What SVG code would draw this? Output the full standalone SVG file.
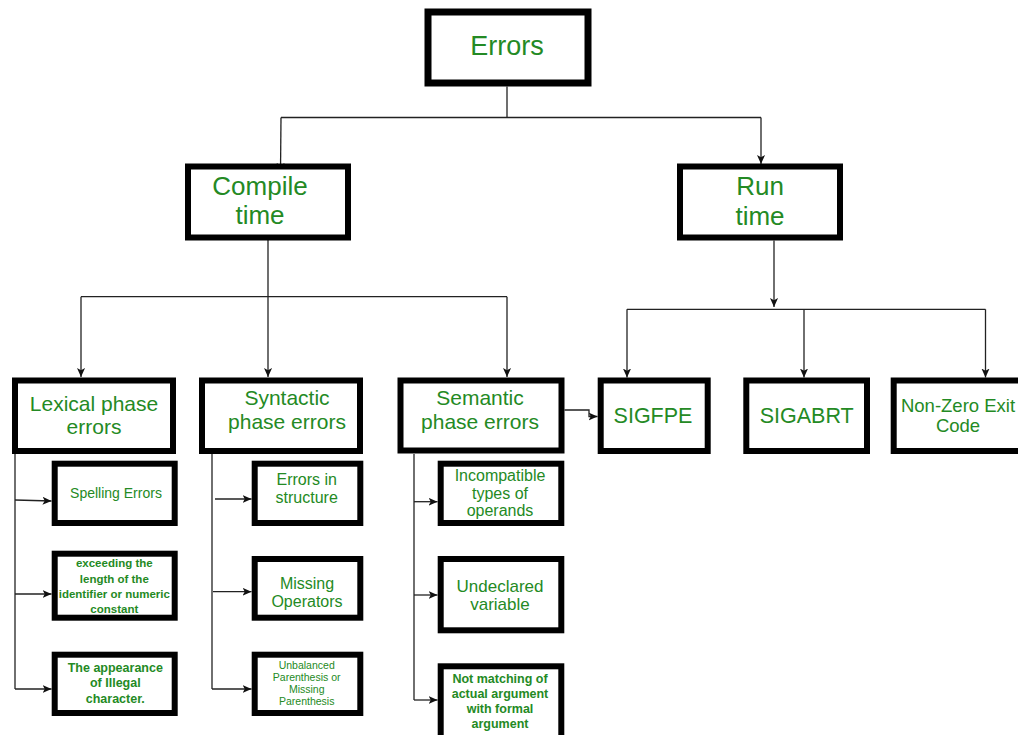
<svg xmlns="http://www.w3.org/2000/svg" width="1018" height="735" viewBox="0 0 1018 735">
  <style>
    .box { fill: #ffffff; stroke: #000000; stroke-width: 6; }
    .top { stroke-width: 7; }
    .frame { fill: none; stroke: #000000; stroke-width: 6; }
    .lbl { font-family: "Liberation Sans", Arial, sans-serif; fill: #248a24; text-anchor: middle; }
    .b { font-weight: bold; }
    .wire { fill: none; stroke: #222222; stroke-width: 1.3; }
    .arrow { fill: none; stroke: #222222; stroke-width: 1.3; marker-end: url(#head); }
  </style>
  <defs>
    <marker id="head" viewBox="0 0 10 10" refX="10" refY="5" markerWidth="9" markerHeight="9" markerUnits="userSpaceOnUse" orient="auto">
      <path d="M0,0.5 L10,5 L0,9.5 L2.5,5 Z" fill="#111111"/>
    </marker>
  </defs>
  <rect width="1018" height="735" fill="#ffffff"/>

  <g id="connectors">
    <!-- Errors -> Compile time / Run time -->
    <path class="wire" d="M507,86.5 V117.5 M281,117.5 H761"/>
    <path class="arrow" d="M281,117.5 L280.5,172"/>
    <path class="arrow" d="M761,117.5 V164"/>
    <!-- Compile time -> phases -->
    <path class="wire" d="M268,240 V296.7 M81,296.7 H507"/>
    <path class="arrow" d="M81,296.7 V377"/>
    <path class="arrow" d="M268,296.7 V377"/>
    <path class="arrow" d="M507,296.7 V377"/>
    <!-- Run time -> signals -->
    <path class="arrow" d="M774,240.5 V307"/>
    <path class="wire" d="M627,309.3 H985.5"/>
    <path class="arrow" d="M627,309.3 V377.5"/>
    <path class="arrow" d="M804,309.3 V377.5"/>
    <path class="arrow" d="M985.5,309.3 V377.5"/>
    <!-- Semantic -> SIGFPE -->
    <path class="arrow" d="M564.5,410 H589 V416.5 H597.5"/>
    <!-- Lexical children -->
    <path class="wire" d="M15,454 V689"/>
    <path class="arrow" d="M15,500 L51.5,501"/>
    <path class="arrow" d="M15,594 H51.5"/>
    <path class="arrow" d="M15,689 H51.5"/>
    <!-- Syntactic children -->
    <path class="wire" d="M212,454 V689"/>
    <path class="arrow" d="M215,499 H251.5"/>
    <path class="arrow" d="M213,591.7 H251.5"/>
    <path class="arrow" d="M212,689 H251.5"/>
    <!-- Semantic children -->
    <path class="wire" d="M414,454 V700"/>
    <path class="arrow" d="M414,501.7 H437.5"/>
    <path class="arrow" d="M414,595 H437.5"/>
    <path class="arrow" d="M414,700 H437.5"/>
  </g>

  <g id="errors">
    <rect class="box top" x="428" y="12" width="160" height="71"/>
    <text class="lbl" x="507" y="55" font-size="27">Errors</text>
  </g>

  <g id="compile-time">
    <rect class="box" x="188" y="166.5" width="160" height="71"/>
    <text class="lbl" font-size="26"><tspan x="260" y="195">Compile</tspan><tspan x="260" y="224">time</tspan></text>
  </g>

  <g id="run-time">
    <rect class="box" x="680" y="166.5" width="160" height="71"/>
    <text class="lbl" font-size="26"><tspan x="760" y="195">Run</tspan><tspan x="760" y="225">time</tspan></text>
  </g>

  <g id="lexical">
    <rect class="box" x="15" y="380.5" width="158" height="70.5"/>
    <text class="lbl" font-size="21"><tspan x="94" y="410.7">Lexical phase</tspan><tspan x="94" y="434">errors</tspan></text>
  </g>

  <g id="syntactic">
    <rect class="box" x="202" y="380.5" width="158" height="70.5"/>
    <text class="lbl" font-size="21"><tspan x="287" y="405">Syntactic</tspan><tspan x="287" y="429.3">phase errors</tspan></text>
  </g>

  <g id="semantic">
    <rect class="box" x="400.5" y="380.5" width="161" height="70"/>
    <text class="lbl" font-size="21"><tspan x="480" y="405">Semantic</tspan><tspan x="480" y="429.3">phase errors</tspan></text>
  </g>

  <g id="sigfpe">
    <rect class="box" x="600.7" y="380.5" width="107" height="70.5"/>
    <text class="lbl" x="653" y="422.7" font-size="21.5">SIGFPE</text>
  </g>

  <g id="sigabrt">
    <rect class="box" x="746.3" y="380.5" width="120.7" height="70.5"/>
    <text class="lbl" x="806.7" y="422.7" font-size="21.5">SIGABRT</text>
  </g>

  <g id="non-zero-exit">
    <rect class="box" x="893.7" y="380.5" width="130" height="70.5"/>
    <text class="lbl" font-size="18.5"><tspan x="958" y="411.7">Non-Zero Exit</tspan><tspan x="958" y="431.7">Code</tspan></text>
  </g>

  <g id="spelling-errors">
    <rect class="box" x="54.7" y="463.7" width="120" height="59.3"/>
    <text class="lbl" x="116" y="498.3" font-size="14">Spelling Errors</text>
  </g>

  <g id="identifier-length">
    <rect x="54.7" y="553.7" width="120" height="64" fill="#ffffff"/>
    <text class="lbl b" font-size="11.5"><tspan x="114.3" y="567.3">exceeding the</tspan><tspan x="114.3" y="582.7">length of the</tspan><tspan x="114.3" y="597.7">identifier or numeric</tspan><tspan x="114.3" y="612.7">constant</tspan></text>
    <!-- border drawn last so it sits over the long middle line -->
    <rect class="frame" x="54.7" y="553.7" width="120" height="64"/>
  </g>

  <g id="illegal-character">
    <rect class="box" x="54.7" y="654.7" width="120" height="58.3"/>
    <text class="lbl b" font-size="12.5"><tspan x="115.3" y="671.7">The appearance</tspan><tspan x="115.3" y="687.3">of Illegal</tspan><tspan x="115.3" y="702.7">character.</tspan></text>
  </g>

  <g id="errors-in-structure">
    <rect class="box" x="254.7" y="463.7" width="105.6" height="59.3"/>
    <text class="lbl" font-size="16"><tspan x="306.7" y="485">Errors in</tspan><tspan x="306.7" y="503">structure</tspan></text>
  </g>

  <g id="missing-operators">
    <rect class="box" x="254.7" y="559" width="105.6" height="58.7"/>
    <text class="lbl" font-size="16"><tspan x="307" y="589">Missing</tspan><tspan x="307" y="607">Operators</tspan></text>
  </g>

  <g id="unbalanced-parenthesis">
    <rect class="box" x="254.7" y="654.7" width="105.6" height="58.3"/>
    <text class="lbl" font-size="10.5"><tspan x="306.7" y="669">Unbalanced</tspan><tspan x="306.7" y="681">Parenthesis or</tspan><tspan x="306.7" y="693">Missing</tspan><tspan x="306.7" y="705">Parenthesis</tspan></text>
  </g>

  <g id="incompatible-types">
    <rect class="box" x="440.7" y="463.7" width="120.6" height="59.3"/>
    <text class="lbl" font-size="16"><tspan x="500" y="481">Incompatible</tspan><tspan x="500" y="498.5">types of</tspan><tspan x="500" y="516">operands</tspan></text>
  </g>

  <g id="undeclared-variable">
    <rect class="box" x="440.7" y="559" width="120.6" height="71.3"/>
    <text class="lbl" font-size="17"><tspan x="500" y="591.7">Undeclared</tspan><tspan x="500" y="610">variable</tspan></text>
  </g>

  <g id="argument-mismatch">
    <rect class="box" x="440.7" y="666.3" width="120.6" height="75"/>
    <text class="lbl b" font-size="12.5"><tspan x="500" y="683.3">Not matching of</tspan><tspan x="500" y="698.3">actual argument</tspan><tspan x="500" y="713.3">with formal</tspan><tspan x="500" y="728.3">argument</tspan></text>
  </g>
</svg>
